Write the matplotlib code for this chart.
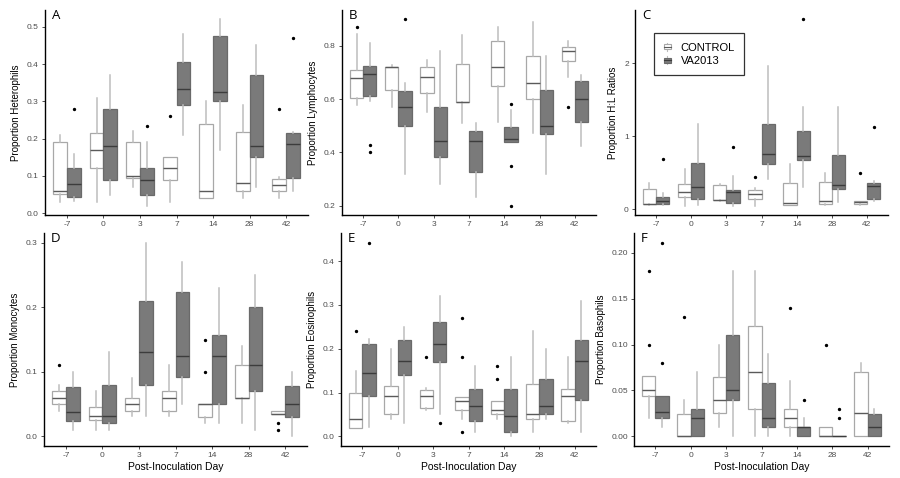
import matplotlib
matplotlib.use("Agg")
import matplotlib.pyplot as plt
from matplotlib.patches import Patch, Rectangle
from matplotlib.lines import Line2D
from matplotlib.legend_handler import HandlerBase

# ---------------- data (whislo, q1, median, q3, whishi) ----------------
days = ["-7", "0", "3", "7", "14", "28", "42"]
groups = ["CONTROL", "VA2013"]

het_control = [(0.03, 0.051, 0.06, 0.19, 0.21), (0.03, 0.12, 0.17, 0.216, 0.31),
               (0.071, 0.094, 0.10, 0.19, 0.22), (0.03, 0.09, 0.12, 0.15, 0.15),
               (0.04, 0.04, 0.06, 0.24, 0.30), (0.04, 0.059, 0.08, 0.219, 0.29),
               (0.04, 0.059, 0.075, 0.092, 0.098)]
het_control_out = [[], [], [], [0.26], [], [], [0.28]]
het_va = [(0.033, 0.042, 0.079, 0.122, 0.16), (0.05, 0.09, 0.18, 0.28, 0.37),
          (0.02, 0.05, 0.09, 0.12, 0.19), (0.21, 0.29, 0.332, 0.405, 0.48),
          (0.17, 0.30, 0.326, 0.476, 0.52), (0.071, 0.15, 0.18, 0.37, 0.45),
          (0.06, 0.094, 0.186, 0.214, 0.219)]
het_va_out = [[0.279], [], [0.233], [], [], [], [0.47]]

lym_control = [(0.58, 0.605, 0.68, 0.71, 0.843), (0.571, 0.635, 0.72, 0.72, 0.729),
               (0.552, 0.625, 0.682, 0.72, 0.748), (0.511, 0.591, 0.591, 0.732, 0.84),
               (0.516, 0.649, 0.72, 0.82, 0.871), (0.473, 0.60, 0.662, 0.761, 0.891),
               (0.682, 0.742, 0.782, 0.796, 0.82)]
lym_control_out = [[0.871], [], [], [], [], [], [0.571]]
lym_va = [(0.592, 0.611, 0.695, 0.723, 0.81), (0.32, 0.50, 0.571, 0.63, 0.66),
          (0.28, 0.381, 0.442, 0.571, 0.782), (0.232, 0.327, 0.442, 0.482, 0.51),
          (0.44, 0.44, 0.452, 0.494, 0.561), (0.32, 0.471, 0.501, 0.634, 0.761),
          (0.423, 0.515, 0.601, 0.668, 0.689)]
lym_va_out = [[0.429, 0.40], [0.90], [], [], [0.581, 0.349, 0.20], [], []]

hl_control = [(0.05, 0.074, 0.074, 0.278, 0.36), (0.046, 0.162, 0.236, 0.338, 0.546),
              (0.116, 0.125, 0.13, 0.329, 0.347), (0.046, 0.144, 0.213, 0.255, 0.292),
              (0.05, 0.05, 0.083, 0.36, 0.625), (0.05, 0.074, 0.106, 0.375, 0.49),
              (0.05, 0.07, 0.09, 0.11, 0.116)]
hl_control_out = [[], [], [], [0.444], [], [], [0.50]]
hl_va = [(0.05, 0.074, 0.106, 0.167, 0.222), (0.06, 0.144, 0.30, 0.639, 1.17),
         (0.046, 0.083, 0.236, 0.255, 0.454), (0.417, 0.625, 0.755, 1.171, 1.958),
         (0.305, 0.671, 0.731, 1.078, 1.40), (0.097, 0.278, 0.324, 0.74, 1.40),
         (0.107, 0.14, 0.317, 0.36, 0.386)]
hl_va_out = [[0.694], [], [0.847], [], [2.606], [], [1.12]]

mono_control = [(0.04, 0.0505, 0.06, 0.0696, 0.08), (0.01, 0.025, 0.031, 0.045, 0.07),
                (0.031, 0.04, 0.05, 0.06, 0.09), (0.031, 0.04, 0.06, 0.07, 0.11),
                (0.02, 0.03, 0.05, 0.05, 0.05), (0.02, 0.06, 0.06, 0.11, 0.14),
                (0.035, 0.035, 0.035, 0.04, 0.04)]
mono_control_out = [[0.11], [], [], [], [0.15, 0.10], [], [0.02, 0.01]]
mono_va = [(0.0103, 0.024, 0.0376, 0.077, 0.0995), (0.01, 0.02, 0.031, 0.08, 0.13),
           (0.031, 0.08, 0.13, 0.21, 0.30), (0.05, 0.092, 0.125, 0.223, 0.27),
           (0.02, 0.05, 0.125, 0.157, 0.23), (0.01, 0.07, 0.11, 0.20, 0.25),
           (0.0, 0.03, 0.05, 0.078, 0.10)]
mono_va_out = [[], [], [], [], [], [], []]

eos_control = [(0.02, 0.02, 0.04, 0.099, 0.15), (0.04, 0.05, 0.091, 0.115, 0.199),
               (0.06, 0.065, 0.091, 0.105, 0.11), (0.04, 0.06, 0.08, 0.09, 0.09),
               (0.04, 0.05, 0.061, 0.08, 0.08), (0.01, 0.04, 0.05, 0.12, 0.24),
               (0.03, 0.036, 0.091, 0.107, 0.18)]
eos_control_out = [[0.24], [], [0.18], [0.27, 0.18, 0.01], [0.16, 0.13], [], []]
eos_va = [(0.022, 0.093, 0.144, 0.21, 0.223), (0.03, 0.14, 0.171, 0.22, 0.25),
          (0.05, 0.169, 0.21, 0.26, 0.32), (0.01, 0.036, 0.07, 0.107, 0.16),
          (0.0, 0.01, 0.046, 0.107, 0.18), (0.04, 0.05, 0.07, 0.13, 0.20),
          (0.01, 0.084, 0.171, 0.22, 0.31)]
eos_va_out = [[0.442], [], [0.03], [], [], [], []]

baso_control = [(0.02, 0.0437, 0.05, 0.0657, 0.0657), (0.0, 0.0, 0.0, 0.0246, 0.04),
                (0.01, 0.025, 0.04, 0.065, 0.10), (0.0, 0.03, 0.07, 0.12, 0.18),
                (0.0, 0.01, 0.02, 0.03, 0.06), (0.0, 0.0, 0.0, 0.01, 0.01),
                (0.0, 0.0, 0.025, 0.07, 0.08)]
baso_control_out = [[0.18, 0.10], [0.13], [], [], [0.14], [0.10], []]
baso_va = [(0.01, 0.02, 0.026, 0.0437, 0.0437), (0.0, 0.0, 0.02, 0.03, 0.07),
           (0.0, 0.04, 0.05, 0.11, 0.18), (0.0, 0.01, 0.02, 0.0576, 0.09),
           (0.0, 0.0, 0.01, 0.01, 0.02), (0.0, 0.0, 0.0, 0.0, 0.0),
           (0.0, 0.0, 0.01, 0.0246, 0.03)]
baso_va_out = [[0.211, 0.08], [], [], [], [0.04], [0.03, 0.02], []]

panel_letters = ["A", "B", "C", "D", "E", "F"]
ylabels = ["Proportion Heterophils", "Proportion Lymphocytes", "Proportion H:L Ratios",
           "Proportion Monocytes", "Proportion Eosinophils", "Proportion Basophils"]
yticks = [[0.0, 0.1, 0.2, 0.3, 0.4, 0.5], [0.2, 0.4, 0.6, 0.8], [0, 1, 2],
          [0.0, 0.1, 0.2, 0.3], [0.0, 0.1, 0.2, 0.3, 0.4], [0.00, 0.05, 0.10, 0.15, 0.20]]
ytickfmt = ["{:.1f}", "{:.1f}", "{:.0f}", "{:.1f}", "{:.1f}", "{:.2f}"]
xlabel = "Post-Inoculation Day"

panels = [(het_control, het_control_out, het_va, het_va_out),
          (lym_control, lym_control_out, lym_va, lym_va_out),
          (hl_control, hl_control_out, hl_va, hl_va_out),
          (mono_control, mono_control_out, mono_va, mono_va_out),
          (eos_control, eos_control_out, eos_va, eos_va_out),
          (baso_control, baso_control_out, baso_va, baso_va_out)]

# ---------------- styling ----------------
plt.rcParams['font.family'] = ['Liberation Sans', 'DejaVu Sans']

W, H = 900, 478
fig = plt.figure(figsize=(W / 100, H / 100), dpi=100)

# axes boxes in pixels (left, right, top, bottom)
boxes_px = [(45, 308, 10, 215), (342, 596, 10, 215), (635, 888, 10, 215),
            (44, 307, 233, 446), (341, 596, 233, 446), (634, 889, 233, 446)]

CTRL_FACE, CTRL_EDGE, CTRL_MED = "white", "#a8a8a8", "#5a5a5a"
VA_FACE, VA_EDGE, VA_MED = "#7a7a7a", "#6a6a6a", "#3c3c3c"
WHISK = "#bdbdbd"
BW = 0.375


def make_stats(rows, outs):
    st = []
    for (lo, q1, med, q3, hi), fl in zip(rows, outs):
        st.append(dict(whislo=lo, q1=q1, med=med, q3=q3, whishi=hi, fliers=fl))
    return st


for i, (ctrl, ctrl_out, va, va_out) in enumerate(panels):
    l, r, t, b = boxes_px[i]
    ax = fig.add_axes([l / W, 1 - b / H, (r - l) / W, (b - t) / H])
    n = len(days)
    pos = list(range(1, n + 1))
    for stats_rows, outs, off, face, edge, medc in [
            (ctrl, ctrl_out, -BW / 2, CTRL_FACE, CTRL_EDGE, CTRL_MED),
            (va, va_out, BW / 2, VA_FACE, VA_EDGE, VA_MED)]:
        ax.bxp(make_stats(stats_rows, outs), positions=[p + off for p in pos],
               widths=BW, patch_artist=True, showcaps=False,
               boxprops=dict(facecolor=face, edgecolor=edge, linewidth=0.9),
               medianprops=dict(color=medc, linewidth=1.0),
               whiskerprops=dict(color=WHISK, linewidth=1.1),
               flierprops=dict(marker='o', markersize=1.4, markerfacecolor='black',
                               markeredgecolor='black', linestyle='none'),
               manage_ticks=False, zorder=2)
    # y range with 5% expansion as in ggplot
    vals = [v for row in ctrl + va for v in row] + [v for f in ctrl_out + va_out for v in f]
    lo, hi = min(vals), max(vals)
    pad = (hi - lo) * 0.05
    ax.set_ylim(lo - pad, hi + pad)
    ax.set_xlim(0.4, n + 0.6)
    ax.set_xticks(pos)
    ax.set_xticklabels(days)
    ax.set_yticks(yticks[i])
    ax.set_yticklabels([ytickfmt[i].format(v) for v in yticks[i]])
    for s in ["top", "right"]:
        ax.spines[s].set_visible(False)
    for s in ["left", "bottom"]:
        ax.spines[s].set_linewidth(1.0)
        ax.spines[s].set_color("black")
    ax.tick_params(axis='both', labelsize=6, labelcolor="#4d4d4d", color="#333333",
                   length=2.5, width=0.6, pad=2)
    ax.set_ylabel(ylabels[i], fontsize=7, labelpad=4)
    if i >= 3:
        ax.set_xlabel(xlabel, fontsize=7.5, labelpad=2)
    ax.text(0.027, 1.005, panel_letters[i], transform=ax.transAxes, fontsize=9.5,
            ha='left', va='top', family=['Open Sans', 'DejaVu Sans'])
    ax.set_facecolor("none")


class BoxGlyph(HandlerBase):
    def __init__(self, face, edge, medc):
        super().__init__()
        self.face, self.edge, self.medc = face, edge, medc

    def create_artists(self, legend, orig_handle, xdescent, ydescent, width, height,
                       fontsize, trans):
        cx = width / 2 - xdescent
        bw = width * 0.8
        y0 = -ydescent + height * 0.1
        y1 = -ydescent + height * 0.9
        rect = Rectangle((cx - bw / 2, y0 + height * 0.15), bw, height * 0.5,
                         facecolor=self.face, edgecolor=self.edge, linewidth=0.8,
                         transform=trans)
        med = Line2D([cx - bw / 2, cx + bw / 2], [y0 + height * 0.42] * 2,
                     color=self.medc, linewidth=0.8, transform=trans)
        w1 = Line2D([cx, cx], [y0, y0 + height * 0.15], color=WHISK, linewidth=0.8,
                    transform=trans)
        w2 = Line2D([cx, cx], [y0 + height * 0.65, y1], color=WHISK, linewidth=0.8,
                    transform=trans)
        return [w1, w2, rect, med]


axC = fig.axes[2]
h_ctrl = Patch(facecolor=CTRL_FACE, edgecolor=CTRL_EDGE)
h_va = Patch(facecolor=VA_FACE, edgecolor=VA_EDGE)
leg = axC.legend([h_ctrl, h_va], groups, loc='upper left',
                 bbox_to_anchor=(0.075, 0.888), borderaxespad=0, fontsize=8,
                 handlelength=0.8, handleheight=1.0, handletextpad=0.8,
                 borderpad=0.8, labelspacing=0.25, fancybox=False,
                 handler_map={h_ctrl: BoxGlyph(CTRL_FACE, CTRL_EDGE, CTRL_MED),
                              h_va: BoxGlyph(VA_FACE, VA_EDGE, VA_MED)})
leg.get_frame().set_edgecolor("black")
leg.get_frame().set_linewidth(0.9)

fig.savefig("out.png", dpi=100, facecolor="white")
